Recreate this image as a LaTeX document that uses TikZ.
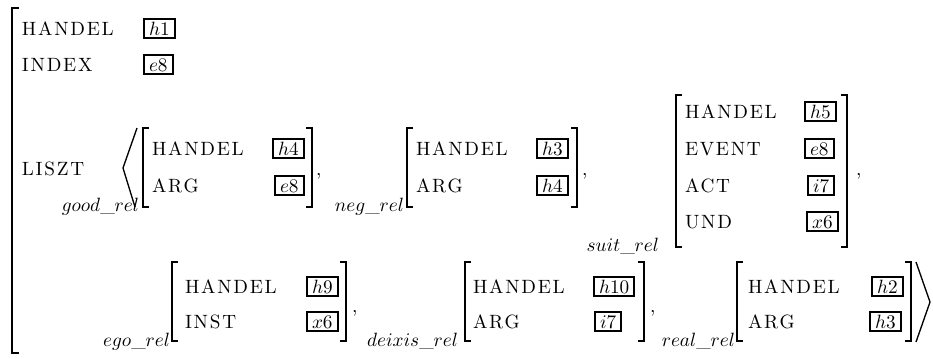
\documentclass[tikz,border=0pt]{standalone}
\usepackage{fontspec}
\newfontfamily\attrfont{lmroman10-regular.otf}[LetterSpace=9]
\begin{document}
\begin{tikzpicture}[
  x=0.52pt, y=-0.52pt,
  every node/.style={inner sep=0pt, outer sep=0pt},
  attr/.style={anchor=base west, font=\attrfont},
  val/.style={draw, line width=1pt, anchor=base west, inner xsep=2.6pt, inner ysep=1.6pt,
    text height=6.8pt, text depth=0pt},
  lbl/.style={anchor=base east},
  punct/.style={anchor=base west},
  brk/.style={line width=0.75pt}
  ]
\useasboundingbox (0,0) rectangle (933,358);

% outer matrix
\draw[brk] (19,8) -| (12,353) -- (19,353);
\node[attr] (hdl) at (22,35) {HANDEL};
\node[val] (hdlv) at (144,35) {$h1$};
\node[attr] (idx) at (22,71) {INDEX};
\node[val] (idxv) at (144,71) {$e8$};
\node[attr] (liszt) at (22,175) {LISZT};

% list opens
\draw[line width=0.7pt] (137,128) -- (123,168) -- (135,207);

% good_rel
\node[lbl] (goodlbl) at (139,211) {$good\_rel$};
\draw[brk] (149,128) -| (143,207) -- (149,207);
\node[attr] (goodh) at (152,155) {HANDEL};
\node[val] (goodhv) at (273,155) {$h4$};
\node[attr] (gooda) at (152,192) {ARG};
\node[val] (goodav) at (275,192) {$e8$};
\draw[brk] (306,128) -| (312,207) -- (306,207);
\node[punct] (goodcm) at (316,175) {,};

% neg_rel
\node[lbl] (neglbl) at (404,211) {$neg\_rel$};
\draw[brk] (413,128) -| (407,207) -- (413,207);
\node[attr] (negh) at (416,155) {HANDEL};
\node[val] (neghv) at (537,155) {$h3$};
\node[attr] (nega) at (416,192) {ARG};
\node[val] (negav) at (537,192) {$h4$};
\draw[brk] (571,128) -| (577,207) -- (571,207);
\node[punct] (negcm) at (582,175) {,};

% suit_rel
\node[lbl] (suitlbl) at (659,251) {$suit\_rel$};
\draw[brk] (682,95) -| (676,247) -- (682,247);
\node[attr] (suith) at (685,118) {HANDEL};
\node[val] (suithv) at (805,118) {$h5$};
\node[attr] (suite) at (685,155) {EVENT};
\node[val] (suitev) at (805,155) {$e8$};
\node[attr] (suitc) at (685,192) {ACT};
\node[val] (suitcv) at (808,192) {$i7$};
\node[attr] (suitu) at (685,228) {UND};
\node[val] (suituv) at (807,228) {$x6$};
\draw[brk] (841,95) -| (847,247) -- (841,247);
\node[punct] (suitcm) at (856,175) {,};

% ego_rel
\node[lbl] (egolbl) at (170,346) {$ego\_rel$};
\draw[brk] (178,262) -| (172,341) -- (178,341);
\node[attr] (egoh) at (185,293) {HANDEL};
\node[val] (egohv) at (307,293) {$h9$};
\node[attr] (egoi) at (185,328) {INST};
\node[val] (egoiv) at (307,328) {$x6$};
\draw[brk] (340,262) -| (346,341) -- (340,341);
\node[punct] (egocm) at (352,312) {,};

% deixis_rel
\node[lbl] (deixlbl) at (458,346) {$deixis\_rel$};
\draw[brk] (471,262) -| (465,341) -- (471,341);
\node[attr] (deixh) at (473,293) {HANDEL};
\node[val] (deixhv) at (594,293) {$h10$};
\node[attr] (deixa) at (473,328) {ARG};
\node[val] (deixav) at (595,328) {$i7$};
\draw[brk] (638,262) -| (644,341) -- (638,341);
\node[punct] (deixcm) at (650,312) {,};

% real_rel
\node[lbl] (reallbl) at (735,346) {$real\_rel$};
\draw[brk] (743,262) -| (737,341) -- (743,341);
\node[attr] (realh) at (748,293) {HANDEL};
\node[val] (realhv) at (872,293) {$h2$};
\node[attr] (reala) at (748,328) {ARG};
\node[val] (realav) at (870,328) {$h3$};
\draw[brk] (905,262) -| (911,341) -- (905,341);

% list closes
\draw[line width=0.7pt] (916,262) -- (930,302) -- (916,342);
\end{tikzpicture}
\end{document}
